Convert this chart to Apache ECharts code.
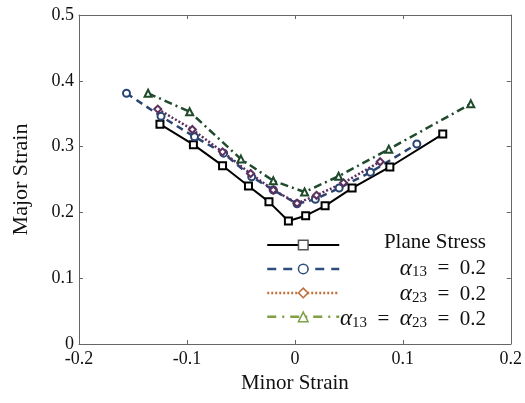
<!DOCTYPE html>
<html>
<head>
<meta charset="utf-8">
<script src="https://cdn.jsdelivr.net/npm/echarts@6/dist/echarts.min.js"></script>
<style>html,body{margin:0;padding:0;background:#fff}#c{width:525px;height:403px}</style>
</head>
<body>
<div id="c"></div>
<script>
// ---- data ----
var seriesNames = ['Plane Stress', 'alpha13', 'alpha23', 'alpha13_23'];
var planeStressX = [-0.125, -0.094, -0.067, -0.043, -0.024, -0.006, 0.010, 0.028, 0.053, 0.088, 0.137];
var planeStressY = [0.334, 0.303, 0.271, 0.240, 0.216, 0.187, 0.195, 0.210, 0.237, 0.269, 0.319];
var alpha13X = [-0.156, -0.124, -0.093, -0.066, -0.040, -0.020, 0.002, 0.019, 0.041, 0.070, 0.113];
var alpha13Y = [0.381, 0.346, 0.315, 0.290, 0.254, 0.234, 0.213, 0.220, 0.237, 0.261, 0.304];
var alpha23X = [-0.127, -0.095, -0.067, -0.041, -0.020, 0.002, 0.020, 0.045, 0.079];
var alpha23Y = [0.357, 0.326, 0.292, 0.259, 0.234, 0.214, 0.226, 0.245, 0.277];
var alpha1323X = [-0.136, -0.0975, -0.050, -0.020, 0.009, 0.0405, 0.087, 0.163];
var alpha1323Y = [0.381, 0.353, 0.281, 0.248, 0.231, 0.255, 0.296, 0.365];
var xTicks = [-0.2, -0.1, 0, 0.1, 0.2];
var yTicks = [0, 0.1, 0.2, 0.3, 0.4, 0.5];
var legendLabels = ['Plane Stress', '{a|α}{s|13}  =  0.2', '{a|α}{s|23}  =  0.2', '{a|α}{s|13}  =  {a|α}{s|23}  =  0.2'];

function pairs(xs, ys) { return xs.map(function (x, i) { return [x, ys[i]]; }); }

var font = '"Liberation Serif", "DejaVu Serif", serif';
var axisColor = '#666';

var chart = echarts.init(document.getElementById('c'), null, { renderer: 'canvas' });

function mkSeries(name, data, color, symbol, type, width) {
  return {
    name: name, type: 'line', data: data,
    symbol: symbol, symbolSize: 7, showSymbol: true,
    lineStyle: { color: color, width: width, type: type },
    itemStyle: { color: '#fff', borderColor: color, borderWidth: 2 },
    emphasis: { disabled: true }, animation: false
  };
}

var axisCommon = {
  axisLine: { show: true, onZero: false, lineStyle: { color: axisColor, width: 1 } },
  axisTick: { show: true, inside: true, length: 4, lineStyle: { color: axisColor } },
  splitLine: { show: false }
};

var option = {
  backgroundColor: '#fff',
  animation: false,
  grid: { left: 79, top: 15, right: 13, bottom: 59, containLabel: false },
  xAxis: [
    Object.assign({}, axisCommon, {
      type: 'value', min: xTicks[0], max: xTicks[xTicks.length - 1], interval: 0.1, position: 'bottom',
      name: 'Minor Strain', nameLocation: 'middle', nameGap: 29,
      nameTextStyle: { fontFamily: font, fontSize: 21, color: '#111' },
      axisLabel: { fontFamily: font, fontSize: 18, color: '#111', margin: 6,
        formatter: function (v) { return String(Math.round(v * 10) / 10); } }
    }),
    Object.assign({}, axisCommon, {
      type: 'value', min: xTicks[0], max: xTicks[xTicks.length - 1], interval: 0.1, position: 'top',
      axisLabel: { show: false }
    })
  ],
  yAxis: [
    Object.assign({}, axisCommon, {
      type: 'value', min: yTicks[0], max: yTicks[yTicks.length - 1], interval: 0.1, position: 'left',
      name: 'Major Strain', nameLocation: 'middle', nameGap: 47,
      nameTextStyle: { fontFamily: font, fontSize: 22, color: '#111' },
      axisLabel: { fontFamily: font, fontSize: 18, color: '#111', margin: 5,
        formatter: function (v) { return String(Math.round(v * 10) / 10); } }
    }),
    Object.assign({}, axisCommon, {
      type: 'value', min: yTicks[0], max: yTicks[yTicks.length - 1], interval: 0.1, position: 'right',
      axisLabel: { show: false }
    })
  ],
  legend: {
    orient: 'vertical', left: 261, top: 234,
    itemWidth: 72, itemHeight: 12, itemGap: 12.4,
    formatter: function () { return ''; },
    selectedMode: false,
    data: [
      { name: seriesNames[0],
        itemStyle: { color: '#fff', borderColor: '#555', borderWidth: 1.5 },
        lineStyle: { color: '#000', width: 2, type: 'solid' } },
      { name: seriesNames[1],
        itemStyle: { color: '#fff', borderColor: '#2e4e7e', borderWidth: 1.5 },
        lineStyle: { color: '#2e4e7e', width: 2.5, type: [9, 7] } },
      { name: seriesNames[2],
        itemStyle: { color: '#fff', borderColor: '#c0703a', borderWidth: 1.5 },
        lineStyle: { color: '#c0703a', width: 2.5, type: [2, 2] } },
      { name: seriesNames[3],
        itemStyle: { color: '#fff', borderColor: '#7fa045', borderWidth: 1.5 },
        lineStyle: { color: '#7fa045', width: 2.5, type: [9, 6, 2, 6] } }
    ]
  },
  graphic: legendLabels.map(function (t, i) {
    return {
      type: 'text', right: 525 - 486, top: 232 + i * 25.3, silent: true,
      style: {
        text: t, fill: '#111', font: '21px ' + font, textAlign: 'right',
        rich: {
          a: { fontFamily: font, fontSize: 23, fontStyle: 'italic', lineHeight: 22, fill: '#111' },
          s: { fontFamily: font, fontSize: 15, lineHeight: 11, verticalAlign: 'bottom', fill: '#111' }
        }
      }
    };
  }),
  series: [
    mkSeries(seriesNames[0], pairs(planeStressX, planeStressY), '#000', 'rect', 'solid', 2),
    mkSeries(seriesNames[1], pairs(alpha13X, alpha13Y), '#2a4572', 'circle', [7, 5], 2.5),
    mkSeries(seriesNames[2], pairs(alpha23X, alpha23Y), '#5c2f5e', 'diamond', [2, 2], 2.5),
    mkSeries(seriesNames[3], pairs(alpha1323X, alpha1323Y), '#1f4a2c', 'triangle', [8, 4, 2, 4], 2.5)
  ]
};
chart.setOption(option);
</script>
</body>
</html>
